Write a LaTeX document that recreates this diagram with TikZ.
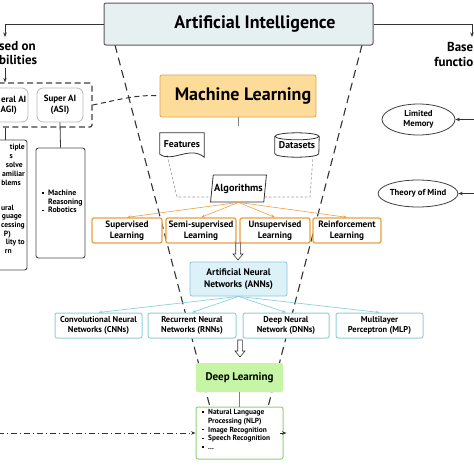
\documentclass[tikz,border=0pt]{standalone}
\usepackage{fontspec}
\setmainfont{PT Sans}
\usetikzlibrary{shapes.geometric,arrows.meta,calc}
\definecolor{aifill}{HTML}{E6F0F0}
\definecolor{aid}{HTML}{5A5A5A}
\definecolor{mlfill}{HTML}{FDDB98}
\definecolor{mld}{HTML}{D9A650}
\definecolor{orng}{HTML}{EBA043}
\definecolor{annfill}{HTML}{DDF1F9}
\definecolor{annd}{HTML}{8CC6D9}
\definecolor{nnd}{HTML}{8FCFDF}
\definecolor{dlfill}{HTML}{C6F5A6}
\definecolor{lsd}{HTML}{8FD46F}
\newcommand\lbul{\makebox[6pt][l]{\rule[1.8pt]{1.4pt}{1.4pt}}}
\begin{document}
\begin{tikzpicture}[x=1pt,y=-1pt,
  every node/.style={inner sep=0pt, align=center},
  learnbox/.style={draw=orng, line width=1.3pt, fill=white, rounded corners=2pt, minimum height=25pt, font=\fontsize{9.2}{10.5}\selectfont\bfseries},
  nnbox/.style={draw=nnd, line width=1pt, fill=white, rounded corners=2pt, minimum height=25pt, font=\fontsize{8.5}{10}\selectfont\bfseries},
  funnel/.style={draw=black!80, line width=1.1pt, dash pattern=on 8pt off 5pt},
  oarr/.style={draw=orng, line width=0.6pt, -{Stealth[length=4pt,width=3pt]}},
  barr/.style={draw=nnd, line width=0.7pt, -{Stealth[length=4pt,width=3pt]}},
  conn/.style={draw=black!80, line width=0.8pt},
  tip/.style={-{Stealth[length=4.5pt,width=3.5pt]}},
  softbox/.style={draw=gray!55, line width=0.8pt, rounded corners=6pt, minimum height=34pt, font=\fontsize{9}{11}\selectfont\bfseries},
  lbtext/.style={anchor=east, font=\fontsize{7.6}{8}\selectfont\bfseries},
  hollowdn/.pic={\draw[fill=white, line width=0.6pt, draw=black!80] (-2.3,0) -- (-2.3,11) -- (-5,11) -- (0,17) -- (5,11) -- (2.3,11) -- (2.3,0) -- cycle;}
]
\useasboundingbox (0,0) rectangle (474,474);
\clip (0,0) rectangle (474,474);
\fill[white] (0,0) rectangle (474,474);

% funnel lines
\coordinate (fa) at (115,45); \coordinate (fb) at (210,407);
\coordinate (fc) at (362,45); \coordinate (fd) at (268,407);
\draw[funnel] (fa) -- (fb);
\draw[funnel] (fc) -- (fd);

% Artificial Intelligence
\node[draw=aid, fill=aifill, line width=1pt, rounded corners=2pt, minimum width=269pt, minimum height=42pt, font=\fontsize{18}{20}\selectfont\bfseries] (ai) at (238.5,24) {\hspace*{33pt}Artificial Intelligence};
\coordinate (lc) at (5,37);
\coordinate (rc) at (472,37);
\draw[conn,tip] (ai.west) -| (lc);
\draw[conn,tip] (ai.east) -| (rc);

% left column: capabilities
\node[anchor=west, font=\fontsize{13}{14}\selectfont\bfseries] (capt1) at (-1,46) {sed on};
\node[anchor=west, font=\fontsize{13}{14}\selectfont\bfseries] (capt2) at (-1,60) {bilities};
\node[draw=black!75, line width=1.2pt, dash pattern=on 6pt off 3.5pt, rounded corners=2pt, minimum width=110pt, minimum height=44pt] (capbox) at (37,105) {};
\coordinate (ca1) at (5,68);
\draw[conn,tip] (ca1) -- (ca1 |- capbox.north);
\node[softbox, minimum width=68pt] (agi) at (-6,105) {};
\node[anchor=east, font=\fontsize{9}{11}\selectfont\bfseries] (agit1) at (26.5,99.5) {eral AI};
\node[anchor=east, font=\fontsize{9}{11}\selectfont\bfseries] (agit2) at (17,110.5) {AGI)};
\node[softbox, minimum width=46pt] (asi) at (60,105) {Super AI\\(ASI)};

\node[draw=black!70, line width=0.9pt, rounded corners=2.5pt, minimum width=67pt, minimum height=130pt] (lbox) at (-6.5,205) {};
\node[draw=black!70, line width=0.9pt, rounded corners=2.5pt, minimum width=49pt, minimum height=110pt] (sbox) at (60.5,203) {};
\coordinate (ax) at (5,0);
\draw[conn] (ax |- capbox.south) -- (ax |- lbox.north);
\draw[conn] (asi.south) -- (sbox.north);
\node[anchor=west, font=\fontsize{7.8}{8.7}\selectfont\bfseries, align=left] (stxt) at (42,201.5) {\lbul Machine\\\hspace*{6pt}Reasoning\\\lbul Robotics};
\node[lbtext] (lb1) at (25,148) {tiple};
\node[lbtext] (lb2) at (13,156.5) {s};
\node[lbtext] (lb3) at (23,165) {solve};
\node[lbtext] (lb4) at (25,174) {amiliar};
\node[lbtext] (lb5) at (21,183) {blems};
\node[lbtext] (lb6) at (14,208) {ural};
\node[lbtext] (lb7) at (22,217) {guage};
\node[lbtext] (lb8) at (25,226) {cessing};
\node[lbtext] (lb9) at (11,234.5) {P)};
\node[lbtext] (lb10) at (25,243) {lity to};
\node[lbtext] (lb11) at (12,252) {rn};

% right column: functionality
\node[anchor=east, font=\fontsize{13}{14}\selectfont\bfseries] (funt1) at (473.5,47) {Base};
\node[anchor=east, font=\fontsize{13}{14}\selectfont\bfseries] (funt2) at (473.5,62) {functio};
\node[ellipse, draw=black!75, line width=0.8pt, minimum width=73pt, minimum height=31pt, font=\fontsize{8.7}{10.5}\selectfont\bfseries] (lm) at (418.5,119.5) {Limited\\Memory};
\node[ellipse, draw=black!75, line width=0.8pt, minimum width=72pt, minimum height=27pt, font=\fontsize{8.7}{10.5}\selectfont\bfseries] (tom) at (418,193.5) {Theory of Mind};
\coordinate (lmr) at (477,119.5);
\coordinate (tomr) at (477,193.5);
\draw[conn,tip] (lmr) -- (lm.east);
\draw[conn,tip] (tomr) -- (tom.east);

% Machine learning
\node[draw=mld, fill=mlfill, line width=0.8pt, rounded corners=2pt, minimum width=156pt, minimum height=42pt, font=\fontsize{18}{20}\selectfont\bfseries] (ml) at (238,96) {\hspace*{10pt}Machine Learning};
\draw[black!80, line width=1pt, dash pattern=on 5pt off 3.5pt] (capbox.east) .. controls (118,100) and (138,94) .. (ml.west);
\coordinate (mlstub) at (238,126);
\draw[conn, draw=gray] (ml.south) -- (mlstub);

% features / datasets / algorithms
\coordinate (t1) at (167,155); \coordinate (t2) at (177,197);
\coordinate (t3) at (310,197); \coordinate (t4) at (313,156);
\draw[gray!80, line width=0.6pt, dash pattern=on 2.5pt off 2pt] (t1) -- (t2) -- (t3) -- (t4);
\node[minimum width=44pt, minimum height=24pt, font=\fontsize{9.8}{11}\selectfont\bfseries] (feat) at (182,145) {\raisebox{2pt}{Features}};
\draw[conn, fill=none] (feat.north west) -- (feat.north east) -- (feat.south east) .. controls +(-14,-12) and +(12,9) .. ($(feat.south west)+(0,-3)$) -- cycle;
\node[minimum width=44pt, minimum height=24pt, font=\fontsize{9.8}{11}\selectfont\bfseries] (ds) at (297,145) {\raisebox{-2pt}{Datasets}};
\draw[conn] ($(ds.north west)+(0,3.5)$) -- ($(ds.south west)+(0,-3.5)$) arc[start angle=180, end angle=0, x radius=22, y radius=3.5] -- ($(ds.north east)+(0,3.5)$);
\draw[conn] ($(ds.north)+(0,3.5)$) ellipse[x radius=22, y radius=3.5];
\node[trapezium, trapezium left angle=75, trapezium right angle=105, trapezium stretches=true, draw=black!80, line width=0.8pt, fill=white, minimum width=56pt, minimum height=27pt, font=\fontsize{10.3}{12}\selectfont\bfseries] (algo) at (238.5,188.5) {Algorithms};

% learning types
\node[learnbox, minimum width=70pt] (sup) at (127,230.5) {Supervised\\Learning};
\node[learnbox, minimum width=70pt] (semi) at (201,230.5) {Semi-supervised\\Learning};
\node[learnbox, minimum width=70pt] (unsup) at (275,230.5) {Unsupervised\\Learning};
\node[learnbox, minimum width=68pt] (reinf) at (347,230.5) {Reinforcement\\Learning};
\foreach \t in {sup,semi,unsup,reinf} \draw[oarr] (algo.south) -- (\t.north);

\coordinate (ha1) at (238,243);
\pic at (ha1) {hollowdn};

% ANNs
\node[draw=annd, fill=annfill, line width=0.8pt, rounded corners=2pt, minimum width=97pt, minimum height=34pt, font=\fontsize{9.5}{11.5}\selectfont\bfseries] (anns) at (238.5,279) {Artificial Neural\\Networks (ANNs)};
\node[nnbox, minimum width=87pt] (cnn) at (98.5,325.5) {Convolutional Neural\\Networks (CNNs)};
\node[nnbox, minimum width=88pt] (rnn) at (192,325.5) {Recurrent Neural\\Networks (RNNs)};
\node[nnbox, minimum width=86pt] (dnn) at (286,325.5) {Deep Neural\\Network (DNNs)};
\node[nnbox, minimum width=87pt] (mlp) at (379.5,325.5) {Multilayer\\Perceptron (MLP)};
\foreach \t in {cnn,rnn,dnn,mlp} \draw[barr] (anns.south) -- (\t.north);

\coordinate (ha2) at (240,340);
\pic at (ha2) {hollowdn};

% Deep learning
\node[fill=dlfill, rounded corners=2pt, minimum width=87pt, minimum height=29pt, font=\fontsize{11}{12}\selectfont\bfseries] (dl) at (239.5,377.5) {Deep Learning};
\node[draw=lsd, line width=1pt, fill=white, rounded corners=2pt, minimum width=87pt, minimum height=52pt] (lst) at (239.5,433) {};
\draw[conn, draw=gray] (dl.south) -- (lst.north);
\node[anchor=north west, font=\fontsize{7.4}{8.8}\selectfont\bfseries, align=left] (lsttxt) at (202,409) {\lbul Natural Language\\\hspace*{6pt}Processing (NLP)\\\lbul Image Recognition\\\lbul Speech Recognition\\\lbul ...};
\coordinate (dl0) at (-2,433);
\draw[conn, dash pattern=on 6pt off 3pt on 1pt off 3pt, tip] (dl0) -- (lst.west);
\draw[conn, tip] (lst.east) ++(-4,0) -- ++(7,0);
\end{tikzpicture}
\end{document}
